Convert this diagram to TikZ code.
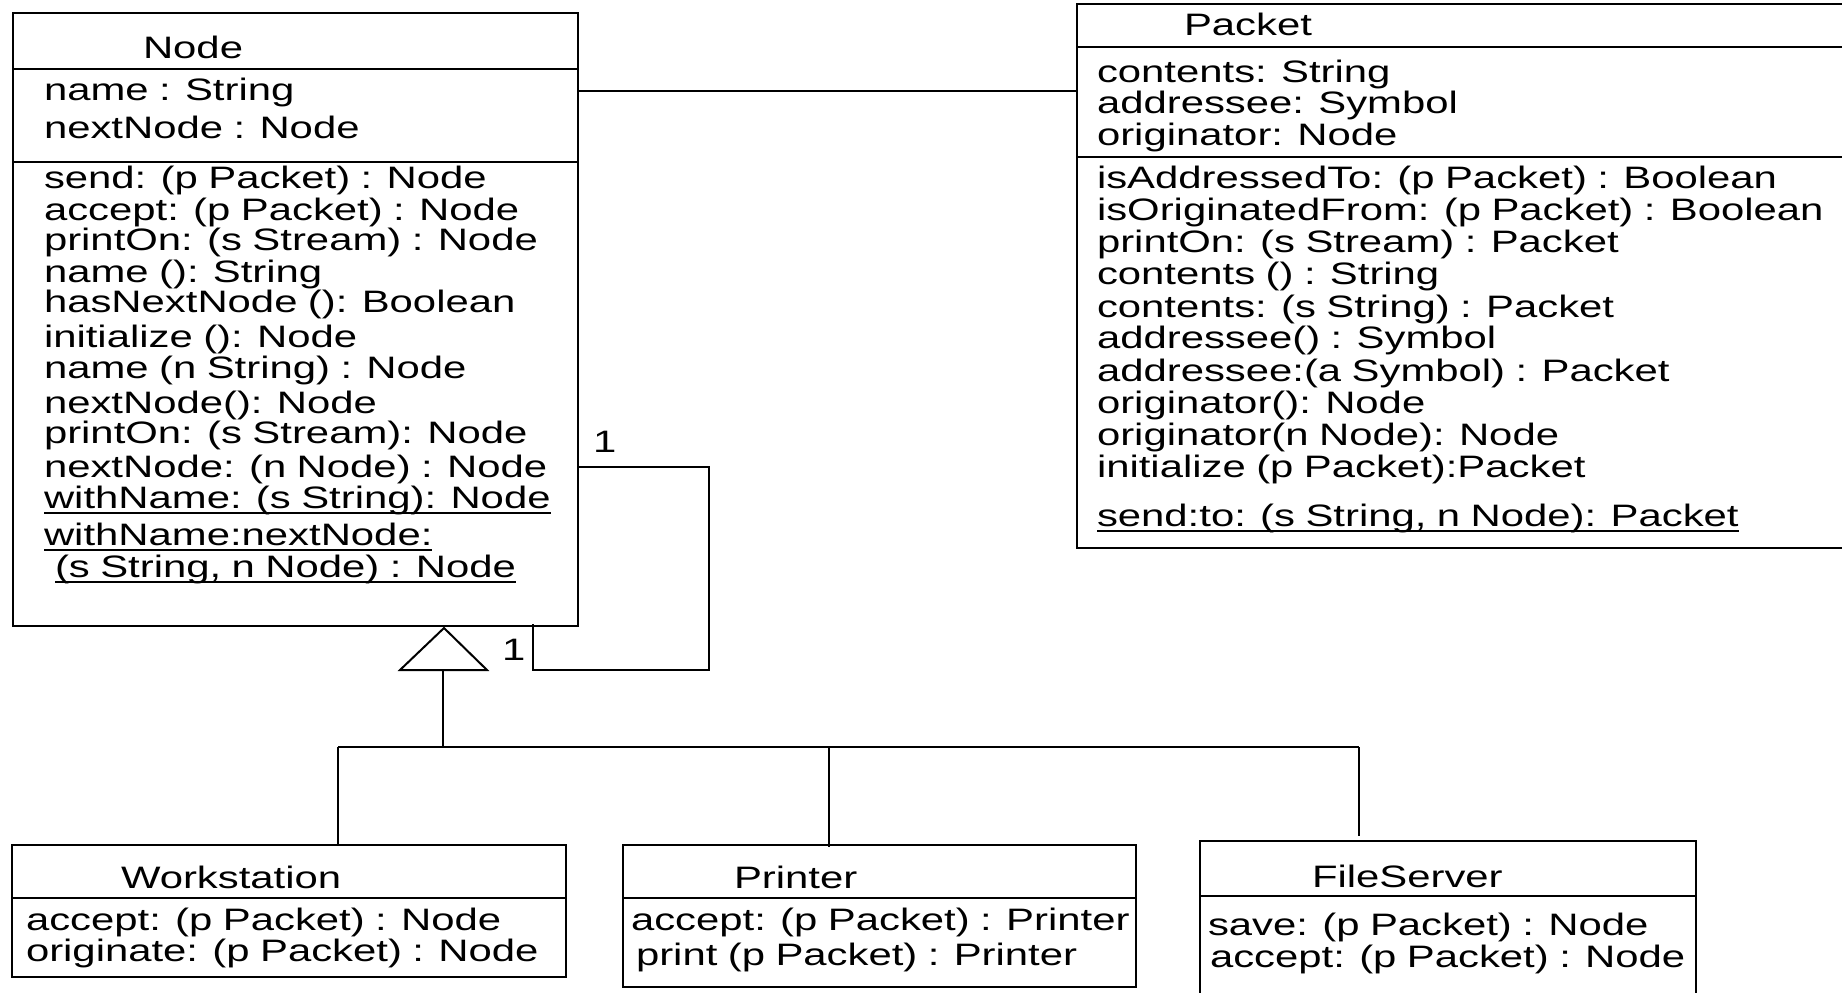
\documentclass[tikz,border=0pt]{standalone}
\usepackage{fontspec}
\setmainfont{Liberation Sans}[FakeStretch=1.35,WordSpace=0.9]
\begin{document}
\begin{tikzpicture}[x=1pt,y=-1pt,
  txt/.style={inner sep=0pt, outer sep=0pt, anchor=base west, font=\fontsize{31}{31}\selectfont},
  classbox/.style={draw, line width=2.2pt, inner sep=0pt, outer sep=0pt, anchor=north west},
  sepline/.style={line width=2.4pt},
  assoc/.style={line width=2pt},
  thinline/.style={line width=1.2pt},
  genline/.style={line width=2pt, line join=miter},
  ul/.style={line width=1.4pt}]
\useasboundingbox (0,0) rectangle (1842,993);
\clip (0,0) rectangle (1842,993);

% class boxes
\node[classbox, minimum width=565pt, minimum height=613pt] (nodebox) at (13,13) {};
\node[classbox, minimum width=780pt, minimum height=544pt] (packet) at (1077,4) {};
\node[classbox, minimum width=554pt, minimum height=132pt] (ws) at (12,845) {};
\node[classbox, minimum width=513pt, minimum height=142pt] (printer) at (623,845) {};
\node[classbox, minimum width=496pt, minimum height=180pt] (fs) at (1200,841) {};

% compartments
\draw[sepline] (nodebox.west |- 0,69) -- (nodebox.east |- 0,69);
\draw[sepline] (nodebox.west |- 0,162) -- (nodebox.east |- 0,162);
\draw[sepline] (packet.west |- 0,47) -- (packet.east |- 0,47);
\draw[sepline] (packet.west |- 0,157) -- (packet.east |- 0,157);
\draw[sepline] (ws.west |- 0,898) -- (ws.east |- 0,898);
\draw[sepline] (printer.west |- 0,898) -- (printer.east |- 0,898);
\draw[sepline] (fs.west |- 0,896) -- (fs.east |- 0,896);

% Node texts
\node[txt] (nT) at (143,58) {Node};
\node[txt] (nA1) at (44,100) {name : String};
\node[txt] (nA2) at (44,138) {nextNode : Node};
\node[txt] (nM1) at (44,188) {send: (p Packet) : Node};
\node[txt] (nM2) at (44,220) {accept: (p Packet) : Node};
\node[txt] (nM3) at (44,250) {printOn: (s Stream) : Node};
\node[txt] (nM4) at (44,282) {name (): String};
\node[txt] (nM5) at (44,312) {hasNextNode (): Boolean};
\node[txt] (nM6) at (44,347) {initialize (): Node};
\node[txt] (nM7) at (44,378) {name (n String) : Node};
\node[txt] (nM8) at (44,413) {nextNode(): Node};
\node[txt] (nM9) at (44,443) {printOn: (s Stream): Node};
\node[txt] (nM10) at (44,477) {nextNode: (n Node) : Node};
\node[txt] (nM11) at (44,508) {withName: (s String): Node};
\node[txt] (nM12) at (44,545) {withName:nextNode:};
\node[txt] (nM13) at (55,577) {(s String, n Node) : Node};
\foreach \u in {nM11,nM12,nM13}
  \draw[ul] ([yshift=-5pt]\u.base west) -- ([yshift=-5pt]\u.base east);

% Packet texts
\node[txt] (pT) at (1184,35) {Packet};
\node[txt] (pA1) at (1097,82) {contents: String};
\node[txt] (pA2) at (1097,113) {addressee: Symbol};
\node[txt] (pA3) at (1097,145) {originator: Node};
\node[txt] (pM1) at (1097,188) {isAddressedTo: (p Packet) : Boolean};
\node[txt] (pM2) at (1097,220) {isOriginatedFrom: (p Packet) : Boolean};
\node[txt] (pM3) at (1097,252) {printOn: (s Stream) : Packet};
\node[txt] (pM4) at (1097,284) {contents () : String};
\node[txt] (pM5) at (1097,317) {contents: (s String) : Packet};
\node[txt] (pM6) at (1097,348) {addressee() : Symbol};
\node[txt] (pM7) at (1097,381) {addressee:(a Symbol) : Packet};
\node[txt] (pM8) at (1097,413) {originator(): Node};
\node[txt] (pM9) at (1097,445) {originator(n Node): Node};
\node[txt] (pM10) at (1097,477) {initialize (p Packet):Packet};
\node[txt] (pM11) at (1097,526) {send:to: (s String, n Node): Packet};
\draw[ul] ([yshift=-5pt]pM11.base west) -- ([yshift=-5pt]pM11.base east);

% subclasses
\node[txt] (wT) at (121,888) {Workstation};
\node[txt] (wM1) at (26,930) {accept: (p Packet) : Node};
\node[txt] (wM2) at (26,961) {originate: (p Packet) : Node};
\node[txt] (prT) at (734,888) {Printer};
\node[txt] (prM1) at (631,930) {accept: (p Packet) : Printer};
\node[txt] (prM2) at (636,965) {print (p Packet) : Printer};
\node[txt] (fT) at (1312,887) {FileServer};
\node[txt] (fM1) at (1208,935) {save: (p Packet) : Node};
\node[txt] (fM2) at (1210,967) {accept: (p Packet) : Node};

% association Node -- Packet
\draw[assoc] (nodebox.east |- 0,90.5) -- (packet.west |- 0,90.5);

% self association
\node[txt] (m1) at (593,452) {1};
\node[txt] (m2) at (502,660) {1};
\coordinate (s1) at (709,467);
\coordinate (s2) at (709,670);
\coordinate (s3) at (533,670);
\draw[thinline] (nodebox.east |- s1) -- (s1) -- (s2) -- (s3) -- ([yshift=2pt]nodebox.south -| s3);

% generalization
\coordinate (apex) at (444,628);
\coordinate (tb) at (443,670);
\coordinate (j0) at (443,747);
\coordinate (jW) at (338,747);
\coordinate (jP) at (829,747);
\coordinate (jF) at (1359,747);
\draw[genline] (apex) -- (487,670) -- (400,670) -- cycle;
\draw[genline] (tb) -- (j0);
\draw[line width=2.4pt] (jW) -- (jP);
\draw[thinline] (jP) -- (jF);
\draw[line width=1.6pt] (jW) -- (ws.north -| jW);
\draw[thinline] (jP) -- ([yshift=-2pt]printer.north -| jP);
\draw[thinline] (jF) -- ([yshift=5pt]fs.north -| jF);
\end{tikzpicture}
\end{document}
